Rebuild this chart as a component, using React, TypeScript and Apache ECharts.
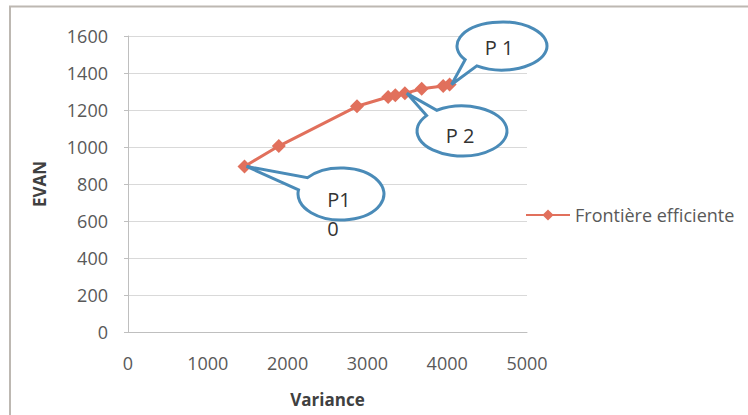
import React, { useEffect, useRef } from "react";
import * as echarts from "echarts";

const variance = [1460, 1890, 2870, 3260, 3350, 3470, 3680, 3950, 4030];
const evan = [895, 1005, 1220, 1270, 1280, 1290, 1315, 1330, 1338];
const seriesName = "Frontière efficiente";
const xTicks = [0, 1000, 2000, 3000, 4000, 5000];
const yTicks = [0, 200, 400, 600, 800, 1000, 1200, 1400, 1600];

type Callout = {
  name: string;
  pointIndex: number;
  cx: number;
  cy: number;
  rx: number;
  ry: number;
  a1: number;
  a2: number;
  text: string;
  tx: number;
  ty: number;
};

const callouts: Callout[] = [
  { name: "calloutTop", pointIndex: 8, cx: 502, cy: 46, rx: 45, ry: 24, a1: 124, a2: 145, text: "P 1", tx: 499, ty: 47 },
  { name: "calloutMid", pointIndex: 5, cx: 462, cy: 131, rx: 45, ry: 25, a1: 218, a2: 236, text: "P 2", tx: 460, ty: 135 },
  { name: "calloutLow", pointIndex: 0, cx: 341, cy: 194, rx: 43, ry: 26, a1: 189, a2: 219, text: "P1", tx: 339, ty: 199 },
];

const FONT = "'Open Sans', Lato, sans-serif";

export default function App() {
  const ref = useRef<HTMLDivElement>(null);
  useEffect(() => {
    if (!ref.current) return;
    const chart = echarts.init(ref.current, null, { renderer: "svg" });
    const data = variance.map((v, i) => [v, evan[i]]);
    const option: any = {
      animation: false,
      backgroundColor: "#ffffff",
      textStyle: { fontFamily: FONT },
      grid: { left: 128, top: 36, right: 221, bottom: 83, containLabel: false },
      legend: {
        data: [seriesName],
        left: 520,
        top: 201,
        itemWidth: 44,
        itemHeight: 14,
        itemGap: 4,
        textStyle: { fontFamily: FONT, fontSize: 18, color: "#595959" },
      },
      xAxis: {
        type: "value",
        min: 0,
        max: 5000,
        interval: 1000,
        name: "Variance",
        nameLocation: "middle",
        nameGap: 59,
        nameTextStyle: { fontFamily: FONT, fontSize: 17, fontWeight: "bold", color: "#404040" },
        axisLine: { show: true, lineStyle: { color: "#BFBFBF", width: 1 } },
        axisTick: { show: false },
        splitLine: { show: false },
        axisLabel: { margin: 22, fontSize: 18, color: "#595959", fontFamily: FONT,
          formatter: (v: number) => (xTicks.includes(v) ? String(v) : "") },
      },
      yAxis: {
        type: "value",
        min: 0,
        max: 1600,
        interval: 200,
        name: "EVAN",
        nameLocation: "middle",
        nameGap: 80,
        nameRotate: 90,
        nameTextStyle: { fontFamily: FONT, fontSize: 17, fontWeight: "bold", color: "#404040" },
        axisLine: { show: true, lineStyle: { color: "#BFBFBF", width: 1 } },
        axisTick: { show: true, length: 4, lineStyle: { color: "#BFBFBF" } },
        splitLine: { show: true, lineStyle: { color: "#D9D9D9", width: 1 } },
        axisLabel: { margin: 20, fontSize: 18, color: "#595959", fontFamily: FONT,
          formatter: (v: number) => (yTicks.includes(v) ? String(v) : "") },
      },
      series: [
        {
          name: seriesName,
          type: "line",
          data,
          symbol: "diamond",
          symbolSize: 14,
          itemStyle: { color: "#E1705C" },
          lineStyle: { color: "#E1705C", width: 3 },
        },
      ],
    };
    chart.setOption(option);

    const graphics: any[] = [
      {
        type: "rect",
        shape: { x: 10, y: 6.5, width: 900, height: 600 },
        style: { fill: "none", stroke: "#BDB8B2", lineWidth: 2 },
        silent: true,
        z: 100,
      },
    ];
    const rad = Math.PI / 180;
    callouts.forEach((c) => {
      const tip = chart.convertToPixel({ gridIndex: 0 }, [variance[c.pointIndex], evan[c.pointIndex]]) as number[];
      const p1 = [c.cx + c.rx * Math.cos(c.a1 * rad), c.cy + c.ry * Math.sin(c.a1 * rad)];
      const p2 = [c.cx + c.rx * Math.cos(c.a2 * rad), c.cy + c.ry * Math.sin(c.a2 * rad)];
      const d = `M${p1[0]} ${p1[1]} A${c.rx} ${c.ry} 0 1 0 ${p2[0]} ${p2[1]} L${tip[0] + 2} ${tip[1]} Z`;
      echarts.graphic.registerShape(c.name, echarts.graphic.extendPath(d, {}) as any);
      graphics.push({
        type: c.name,
        x: 0,
        y: 0,
        style: { fill: "#ffffff", stroke: "#4A8BB8", lineWidth: 3 },
        z: 50,
      });
      graphics.push({
        type: "text",
        x: c.tx,
        y: c.ty,
        style: { text: c.text, fontFamily: FONT, fontSize: 20, fill: "#333333", align: "center", verticalAlign: "middle" },
        z: 51,
      });
    });
    graphics.push({
      type: "text",
      x: 333,
      y: 228,
      style: { text: "0", fontFamily: FONT, fontSize: 20, fill: "#333333", align: "center", verticalAlign: "middle" },
      z: 51,
    });
    chart.setOption({ graphic: graphics });
    return () => chart.dispose();
  }, []);
  return <div ref={ref} style={{ width: 748, height: 415, position: "absolute", left: 0, top: 0 }} />;
}
